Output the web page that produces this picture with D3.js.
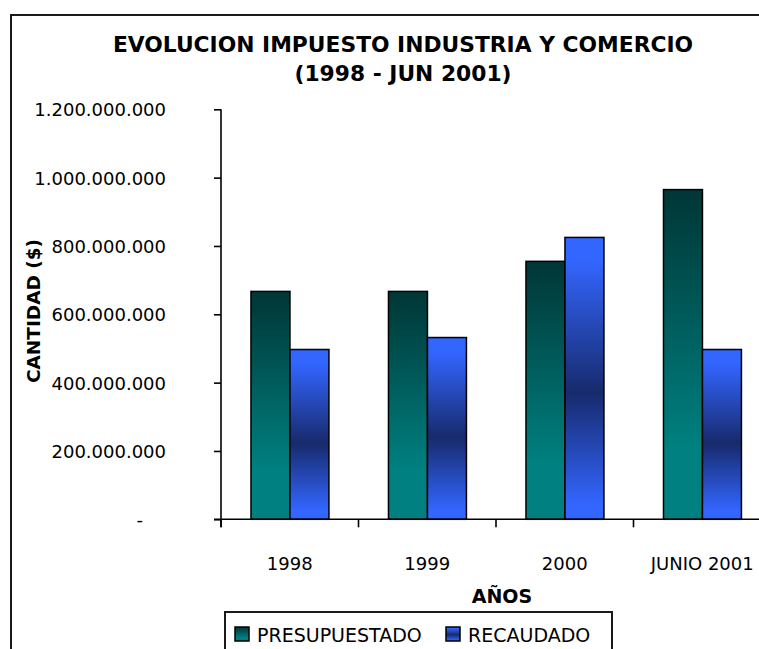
<!DOCTYPE html>
<html>
<head>
<meta charset="utf-8">
<script src="https://cdn.jsdelivr.net/npm/d3@7"></script>
<style>
  html, body { margin: 0; padding: 0; background: #ffffff; }
  svg { display: block; }
</style>
</head>
<body>
<svg id="chart" width="759" height="649"></svg>
<script>
// ---- data ----
const categories = ["1998", "1999", "2000", "JUNIO 2001"];
const seriesNames = ["PRESUPUESTADO", "RECAUDADO"];
const presupuestado = [667000000, 667000000, 755000000, 965000000];
const recaudado = [497000000, 532000000, 825000000, 497000000];
const yTickValues = [0, 200000000, 400000000, 600000000, 800000000, 1000000000, 1200000000];
const titleLines = ["EVOLUCION IMPUESTO INDUSTRIA Y COMERCIO", "(1998 - JUN 2001)"];
const yAxisTitle = "CANTIDAD ($)";
const xAxisTitle = "AÑOS";

const rows = categories.map((c, i) => ({ cat: c, values: [
  { key: seriesNames[0], value: presupuestado[i] },
  { key: seriesNames[1], value: recaudado[i] }
]}));

const svg = d3.select("#chart");
const FONT = "'DejaVu Sans', Verdana, sans-serif";

// gradients
const defs = svg.append("defs");
const gG = defs.append("linearGradient").attr("id", "gradP").attr("x1", 0).attr("y1", 0).attr("x2", 0).attr("y2", 1);
gG.append("stop").attr("offset", "0").attr("stop-color", "#003636");
gG.append("stop").attr("offset", "0.78").attr("stop-color", "#008080");
gG.append("stop").attr("offset", "1").attr("stop-color", "#008080");
const gB = defs.append("linearGradient").attr("id", "gradR").attr("x1", 0).attr("y1", 0).attr("x2", 0).attr("y2", 1);
gB.append("stop").attr("offset", "0").attr("stop-color", "#3366ff");
gB.append("stop").attr("offset", "0.08").attr("stop-color", "#3366ff");
gB.append("stop").attr("offset", "0.55").attr("stop-color", "#172a6c");
gB.append("stop").attr("offset", "0.95").attr("stop-color", "#3366ff");
gB.append("stop").attr("offset", "1").attr("stop-color", "#3366ff");
const fills = { "PRESUPUESTADO": "url(#gradP)", "RECAUDADO": "url(#gradR)" };

// outer chart frame (extends beyond the window)
svg.append("rect").attr("x", 11).attr("y", 15).attr("width", 900).attr("height", 900)
  .attr("fill", "none").attr("stroke", "#1a1a1a").attr("stroke-width", 2);

// scales
const x0 = d3.scaleBand().domain(categories).range([221, 221 + 4 * 137.5]).padding(0);
const x1 = d3.scaleBand().domain(seriesNames)
  .range([x0.bandwidth() * 0.218, x0.bandwidth() * 0.785]).padding(0);
const y = d3.scaleLinear().domain([0, 1200000000]).range([519.3, 109.3]);

// title
svg.append("g").selectAll("text").data(titleLines).join("text")
  .attr("x", 403).attr("y", (d, i) => 52 + i * 29)
  .attr("text-anchor", "middle")
  .attr("font-family", FONT).attr("font-weight", "bold").attr("font-size", 21.8)
  .attr("fill", "#000").text(d => d);

// bars
const groups = svg.append("g").selectAll("g").data(rows).join("g")
  .attr("transform", d => `translate(${x0(d.cat)},0)`);
groups.selectAll("rect").data(d => d.values).join("rect")
  .attr("x", d => x1(d.key)).attr("width", x1.bandwidth())
  .attr("y", d => y(d.value)).attr("height", d => y(0) - y(d.value))
  .attr("fill", d => fills[d.key])
  .attr("stroke", "#000").attr("stroke-width", 1.5);

// y axis
const fmt = d3.format(",");
const yAxis = d3.axisLeft(y).tickValues(yTickValues).tickSize(7).tickPadding(48)
  .tickFormat(v => v === 0 ? "-" : fmt(v).replace(/,/g, "."));
const yg = svg.append("g").attr("transform", "translate(221,0)").call(yAxis);
yg.select(".domain").remove();
yg.append("line").attr("x1", 0).attr("x2", 0).attr("y1", y(1200000000)).attr("y2", y(0) + 8)
  .attr("stroke", "#000").attr("stroke-width", 1.6);
yg.selectAll(".tick line").attr("stroke", "#000").attr("stroke-width", 1.6);
yg.selectAll(".tick text").attr("font-family", FONT).attr("font-size", 18).attr("fill", "#000")
  .attr("dy", "0.36em")
  .filter(d => d === 0).attr("x", -78);

// x axis
const xg = svg.append("g").attr("transform", `translate(0,${y(0)})`);
xg.append("line").attr("x1", 214).attr("x2", 800).attr("y1", 0).attr("y2", 0)
  .attr("stroke", "#000").attr("stroke-width", 1.6);
xg.selectAll("line.xt").data(categories).join("line").attr("class", "xt")
  .attr("x1", d => x0(d)).attr("x2", d => x0(d)).attr("y1", 0).attr("y2", 8)
  .attr("stroke", "#000").attr("stroke-width", 1.6);
xg.selectAll("text").data(categories).join("text")
  .attr("x", d => x0(d) + x0.bandwidth() / 2).attr("y", 51)
  .attr("text-anchor", "middle")
  .attr("font-family", FONT).attr("font-size", 18).attr("fill", "#000")
  .text(d => d);

// axis titles
svg.append("text").attr("transform", "translate(40,311) rotate(-90)")
  .attr("text-anchor", "middle")
  .attr("font-family", FONT).attr("font-weight", "bold").attr("font-size", 18.5).attr("fill", "#000")
  .text(yAxisTitle);
svg.append("text").attr("x", 502).attr("y", 603)
  .attr("text-anchor", "middle")
  .attr("font-family", FONT).attr("font-weight", "bold").attr("font-size", 19).attr("fill", "#000")
  .text(xAxisTitle);

// legend
const lg = svg.append("g");
lg.append("rect").attr("x", 225).attr("y", 612).attr("width", 387).attr("height", 60)
  .attr("fill", "#fff").attr("stroke", "#1a1a1a").attr("stroke-width", 2);
const legendX = [235, 446];
const li = lg.selectAll("g.li").data(seriesNames).join("g").attr("class", "li")
  .attr("transform", (d, i) => `translate(${legendX[i]},627)`);
li.append("rect").attr("width", 14).attr("height", 14)
  .attr("fill", d => fills[d]).attr("stroke", "#000").attr("stroke-width", 1.5);
li.append("text").attr("x", 22).attr("y", 14.5)
  .attr("font-family", FONT).attr("font-size", 19).attr("fill", "#000")
  .text(d => d);
</script>
</body>
</html>
